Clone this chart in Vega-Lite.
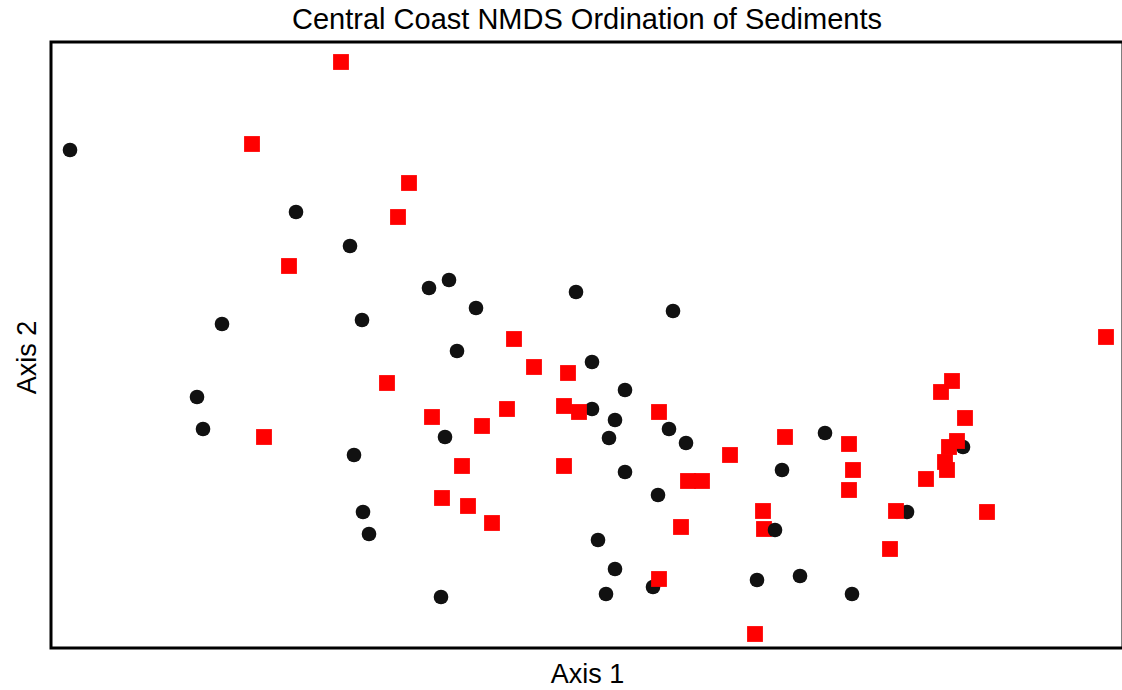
{
  "$schema": "https://vega.github.io/schema/vega-lite/v6.json",
  "width": 1072,
  "height": 606,
  "autosize": {"type": "none"},
  "padding": {"left": 51, "top": 42, "right": 0, "bottom": 42},
  "background": "white",
  "config": {
    "view": {"stroke": "black", "strokeWidth": 3},
    "font": "Liberation Sans"
  },
  "title": {
    "text": "Central Coast NMDS Ordination of Sediments",
    "font": "Liberation Sans",
    "fontSize": 29,
    "fontWeight": "normal",
    "color": "black",
    "anchor": "middle",
    "offset": 7
  },
  "data": {
    "values": [
      {"axis1": 70, "axis2": 540, "group": "A"},
      {"axis1": 296, "axis2": 478, "group": "A"},
      {"axis1": 350, "axis2": 444, "group": "A"},
      {"axis1": 222, "axis2": 366, "group": "A"},
      {"axis1": 362, "axis2": 370, "group": "A"},
      {"axis1": 429, "axis2": 402, "group": "A"},
      {"axis1": 449, "axis2": 410, "group": "A"},
      {"axis1": 476, "axis2": 382, "group": "A"},
      {"axis1": 457, "axis2": 339, "group": "A"},
      {"axis1": 576, "axis2": 398, "group": "A"},
      {"axis1": 673, "axis2": 379, "group": "A"},
      {"axis1": 197, "axis2": 293, "group": "A"},
      {"axis1": 203, "axis2": 261, "group": "A"},
      {"axis1": 354, "axis2": 235, "group": "A"},
      {"axis1": 445, "axis2": 253, "group": "A"},
      {"axis1": 363, "axis2": 178, "group": "A"},
      {"axis1": 369, "axis2": 156, "group": "A"},
      {"axis1": 441, "axis2": 93, "group": "A"},
      {"axis1": 592, "axis2": 328, "group": "A"},
      {"axis1": 625, "axis2": 300, "group": "A"},
      {"axis1": 592, "axis2": 281, "group": "A"},
      {"axis1": 615, "axis2": 270, "group": "A"},
      {"axis1": 609, "axis2": 252, "group": "A"},
      {"axis1": 669, "axis2": 261, "group": "A"},
      {"axis1": 686, "axis2": 247, "group": "A"},
      {"axis1": 625, "axis2": 218, "group": "A"},
      {"axis1": 658, "axis2": 195, "group": "A"},
      {"axis1": 598, "axis2": 150, "group": "A"},
      {"axis1": 615, "axis2": 121, "group": "A"},
      {"axis1": 606, "axis2": 96, "group": "A"},
      {"axis1": 653, "axis2": 103, "group": "A"},
      {"axis1": 782, "axis2": 220, "group": "A"},
      {"axis1": 825, "axis2": 257, "group": "A"},
      {"axis1": 757, "axis2": 110, "group": "A"},
      {"axis1": 800, "axis2": 114, "group": "A"},
      {"axis1": 852, "axis2": 96, "group": "A"},
      {"axis1": 907, "axis2": 178, "group": "A"},
      {"axis1": 963, "axis2": 243, "group": "A"},
      {"axis1": 341, "axis2": 628, "group": "B"},
      {"axis1": 252, "axis2": 546, "group": "B"},
      {"axis1": 409, "axis2": 507, "group": "B"},
      {"axis1": 398, "axis2": 473, "group": "B"},
      {"axis1": 289, "axis2": 424, "group": "B"},
      {"axis1": 1106, "axis2": 353, "group": "B"},
      {"axis1": 514, "axis2": 351, "group": "B"},
      {"axis1": 534, "axis2": 323, "group": "B"},
      {"axis1": 568, "axis2": 317, "group": "B"},
      {"axis1": 387, "axis2": 307, "group": "B"},
      {"axis1": 432, "axis2": 273, "group": "B"},
      {"axis1": 507, "axis2": 281, "group": "B"},
      {"axis1": 482, "axis2": 264, "group": "B"},
      {"axis1": 564, "axis2": 284, "group": "B"},
      {"axis1": 579, "axis2": 278, "group": "B"},
      {"axis1": 659, "axis2": 278, "group": "B"},
      {"axis1": 264, "axis2": 253, "group": "B"},
      {"axis1": 462, "axis2": 224, "group": "B"},
      {"axis1": 564, "axis2": 224, "group": "B"},
      {"axis1": 688, "axis2": 209, "group": "B"},
      {"axis1": 702, "axis2": 209, "group": "B"},
      {"axis1": 442, "axis2": 192, "group": "B"},
      {"axis1": 468, "axis2": 184, "group": "B"},
      {"axis1": 492, "axis2": 167, "group": "B"},
      {"axis1": 681, "axis2": 163, "group": "B"},
      {"axis1": 659, "axis2": 111, "group": "B"},
      {"axis1": 730, "axis2": 235, "group": "B"},
      {"axis1": 785, "axis2": 253, "group": "B"},
      {"axis1": 849, "axis2": 246, "group": "B"},
      {"axis1": 853, "axis2": 220, "group": "B"},
      {"axis1": 849, "axis2": 200, "group": "B"},
      {"axis1": 763, "axis2": 179, "group": "B"},
      {"axis1": 764, "axis2": 161, "group": "B"},
      {"axis1": 755, "axis2": 56, "group": "B"},
      {"axis1": 952, "axis2": 309, "group": "B"},
      {"axis1": 941, "axis2": 298, "group": "B"},
      {"axis1": 965, "axis2": 272, "group": "B"},
      {"axis1": 957, "axis2": 249, "group": "B"},
      {"axis1": 949, "axis2": 243, "group": "B"},
      {"axis1": 945, "axis2": 228, "group": "B"},
      {"axis1": 947, "axis2": 220, "group": "B"},
      {"axis1": 926, "axis2": 211, "group": "B"},
      {"axis1": 896, "axis2": 179, "group": "B"},
      {"axis1": 987, "axis2": 178, "group": "B"},
      {"axis1": 890, "axis2": 141, "group": "B"},
      {"axis1": 775, "axis2": 160, "group": "A"}
    ]
  },
  "mark": {"type": "point", "filled": true, "opacity": 1},
  "encoding": {
    "x": {
      "field": "axis1",
      "type": "quantitative",
      "scale": {"domain": [51, 1123], "nice": false, "zero": false},
      "axis": {
        "title": "Axis 1",
        "labels": false,
        "ticks": false,
        "domain": false,
        "grid": false,
        "titleFont": "Liberation Sans",
        "titleFontSize": 27,
        "titleFontWeight": "normal",
        "titleColor": "black",
        "titleBaseline": "alphabetic",
        "titleY": 34
      }
    },
    "y": {
      "field": "axis2",
      "type": "quantitative",
      "scale": {"domain": [42, 648], "nice": false, "zero": false},
      "axis": {
        "title": "Axis 2",
        "labels": false,
        "ticks": false,
        "domain": false,
        "grid": false,
        "titleFont": "Liberation Sans",
        "titleFontSize": 27,
        "titleFontWeight": "normal",
        "titleColor": "black",
        "titleBaseline": "alphabetic",
        "titleAngle": 270,
        "titleX": -16,
        "titleY": 315
      }
    },
    "shape": {
      "field": "group",
      "type": "nominal",
      "scale": {"domain": ["A", "B"], "range": ["circle", "square"]},
      "legend": null
    },
    "color": {
      "field": "group",
      "type": "nominal",
      "scale": {"domain": ["A", "B"], "range": ["#111111", "#ff0000"]},
      "legend": null
    },
    "size": {
      "field": "group",
      "type": "nominal",
      "scale": {"domain": ["A", "B"], "range": [215, 250]},
      "legend": null
    }
  }
}
